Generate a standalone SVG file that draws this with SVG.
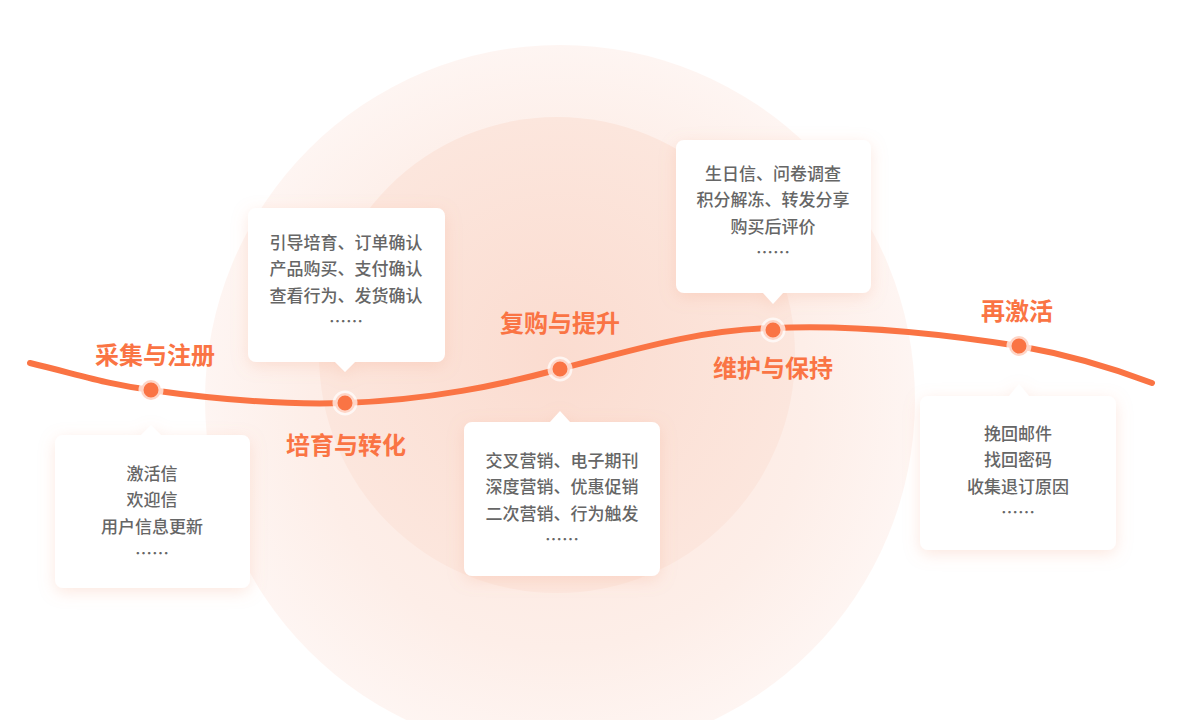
<svg xmlns="http://www.w3.org/2000/svg" width="1200" height="720" viewBox="0 0 1200 720">
<defs>
<radialGradient id="g1" cx="0.5" cy="0.5" r="0.5"><stop offset="0" stop-color="#fde6dd"/><stop offset="0.7" stop-color="#fdeee8"/><stop offset="1" stop-color="#fef5f2"/></radialGradient>
<radialGradient id="g2" cx="0.5" cy="0.5" r="0.5"><stop offset="0" stop-color="#fbdcd0"/><stop offset="1" stop-color="#fce6dd"/></radialGradient>
<filter id="sh" x="-30%" y="-30%" width="160%" height="160%"><feDropShadow dx="0" dy="4" stdDeviation="8" flood-color="#f4a07f" flood-opacity="0.25"/></filter>
<style>
.box{fill:#fff;filter:url(#sh)}
.t{font-family:"Noto Sans CJK SC","Noto Sans",sans-serif;font-size:17px;font-weight:500;fill:#666;text-anchor:middle}
.h{font-family:"Noto Sans CJK SC","Noto Sans",sans-serif;font-size:24px;font-weight:bold;fill:#fa7444;text-anchor:middle}
.dot{fill:#fa7444;stroke:#fff;stroke-opacity:0.7;stroke-width:5}
</style>
</defs>
<rect width="1200" height="720" fill="#fff"/>
<circle cx="560" cy="400" r="355" fill="url(#g1)"/>
<circle cx="557" cy="355" r="238" fill="url(#g2)"/>
<g id="connectors">
<path d="M30,363 C80,375 110,385 151,390 C220,400 280,405 345,403 C430,400 500,385 560,369 C640,348 700,330 773,328 C860,324 950,335 1019,346 C1070,355 1110,367 1152,383" fill="none" stroke="#fa7444" stroke-width="6" stroke-linecap="round"/>
</g>
<g id="n1">
<path class="box" d="M63,435 H141 L151,425 L161,435 H242 a8,8 0 0 1 8,8 V580 a8,8 0 0 1 -8,8 H63 a8,8 0 0 1 -8,-8 V443 a8,8 0 0 1 8,-8Z"/>
<circle class="dot" cx="151" cy="390" r="10"/>
<text class="h" x="155" y="364">采集与注册</text>
<text class="t" x="152" y="480">激活信</text><text class="t" x="152" y="506">欢迎信</text><text class="t" x="152" y="533">用户信息更新</text><text class="t" x="152" y="560">……</text>
</g>
<g id="n2">
<path class="box" d="M256,208 H437 a8,8 0 0 1 8,8 V354 a8,8 0 0 1 -8,8 H355 L345,372 L335,362 H256 a8,8 0 0 1 -8,-8 V216 a8,8 0 0 1 8,-8Z"/>
<circle class="dot" cx="345" cy="403" r="10"/>
<text class="h" x="346" y="454">培育与转化</text>
<text class="t" x="346" y="249">引导培育、订单确认</text><text class="t" x="346" y="275">产品购买、支付确认</text><text class="t" x="346" y="302">查看行为、发货确认</text><text class="t" x="346" y="328">……</text>
</g>
<g id="n3">
<path class="box" d="M472,422 H550 L560,411 L570,422 H652 a8,8 0 0 1 8,8 V568 a8,8 0 0 1 -8,8 H472 a8,8 0 0 1 -8,-8 V430 a8,8 0 0 1 8,-8Z"/>
<circle class="dot" cx="560" cy="369" r="10"/>
<text class="h" x="560" y="332">复购与提升</text>
<text class="t" x="562" y="467">交叉营销、电子期刊</text><text class="t" x="562" y="493">深度营销、优惠促销</text><text class="t" x="562" y="520">二次营销、行为触发</text><text class="t" x="562" y="546">……</text>
</g>
<g id="n4">
<path class="box" d="M684,140 H863 a8,8 0 0 1 8,8 V285 a8,8 0 0 1 -8,8 H783 L773,304 L763,293 H684 a8,8 0 0 1 -8,-8 V148 a8,8 0 0 1 8,-8Z"/>
<circle class="dot" cx="773" cy="330" r="10"/>
<text class="h" x="773" y="377">维护与保持</text>
<text class="t" x="773" y="180">生日信、问卷调查</text><text class="t" x="773" y="206">积分解冻、转发分享</text><text class="t" x="773" y="233">购买后评价</text><text class="t" x="773" y="259">……</text>
</g>
<g id="n5">
<path class="box" d="M928,396 H1009 L1019,384 L1029,396 H1108 a8,8 0 0 1 8,8 V542 a8,8 0 0 1 -8,8 H928 a8,8 0 0 1 -8,-8 V404 a8,8 0 0 1 8,-8Z"/>
<circle class="dot" cx="1019" cy="346" r="10"/>
<text class="h" x="1017" y="320">再激活</text>
<text class="t" x="1018" y="440">挽回邮件</text><text class="t" x="1018" y="466">找回密码</text><text class="t" x="1018" y="493">收集退订原因</text><text class="t" x="1018" y="519">……</text>
</g>
</svg>
